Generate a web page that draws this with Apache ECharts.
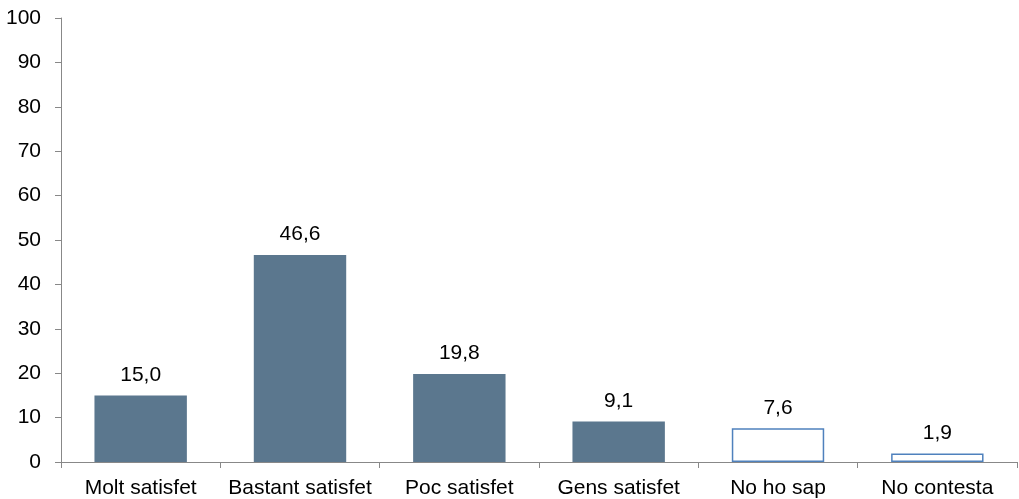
<!DOCTYPE html>
<html><head><meta charset="utf-8">
<script src="https://cdn.jsdelivr.net/npm/echarts@6/dist/echarts.min.js"></script>
<style>html,body{margin:0;padding:0;background:#fff}#c{width:1019px;height:499px}</style>
</head><body><div id="c"></div>
<script>
const categories = ['Molt satisfet','Bastant satisfet','Poc satisfet','Gens satisfet','No ho sap','No contesta'];
const values = [15.0, 46.6, 19.8, 9.1, 7.6, 1.9];
const outlined = [false, false, false, false, true, true];
const yTicks = [0,10,20,30,40,50,60,70,80,90,100];

const chart = echarts.init(document.getElementById('c'), null, {renderer:'canvas'});
const data = values.map((v,i) => outlined[i]
  ? {value:v, itemStyle:{color:'#ffffff', borderColor:'#4f81bd', borderWidth:1.5}}
  : {value:v, itemStyle:{color:'#5b778e'}});
const font = 'Liberation Sans, Arial, sans-serif';
chart.setOption({
  animation:false,
  grid:{left:61, right:2, top:18, bottom:36, containLabel:false},
  xAxis:{type:'category', data:categories,
    axisLine:{lineStyle:{color:'#888888', width:1}},
    axisTick:{show:true, length:6, alignWithLabel:false, lineStyle:{color:'#888888'}},
    axisLabel:{color:'#000', fontSize:21, fontFamily:font, margin:16, interval:0}},
  yAxis:{type:'value', min:yTicks[0], max:yTicks[yTicks.length-1], interval:10,
    axisLine:{show:true, lineStyle:{color:'#888888', width:1}},
    axisTick:{show:true, length:6, lineStyle:{color:'#888888'}},
    splitLine:{show:false},
    axisLabel:{color:'#000', fontSize:21, fontFamily:font, margin:20}},
  series:[{type:'bar', data:data, barWidth:'58%',
    label:{show:true, position:'top', distance:10, color:'#000', fontSize:21,
      fontFamily:font,
      formatter:p => p.value.toFixed(1).replace('.', ',')}}]
});
</script></body></html>
